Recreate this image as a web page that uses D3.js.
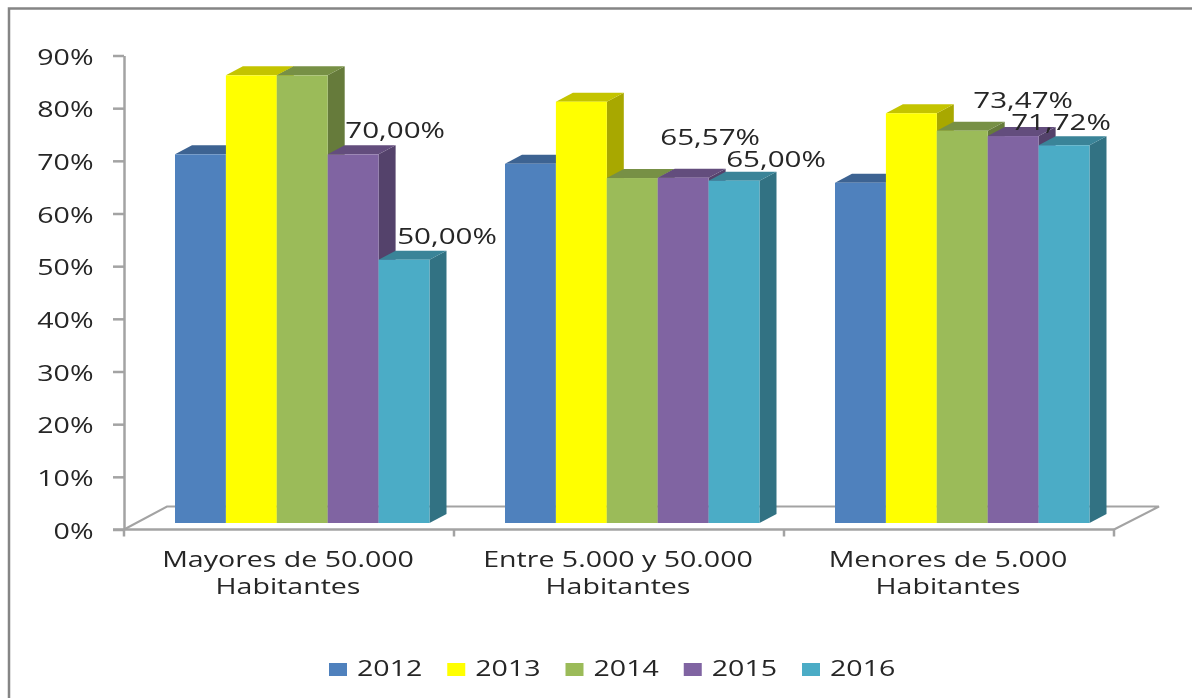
<!DOCTYPE html>
<html>
<head>
<meta charset="utf-8">
<script src="https://cdn.jsdelivr.net/npm/d3@7"></script>
<style>
  html, body { margin: 0; background: #fff; }
  svg { display: block; filter: blur(0.45px); }
  text { font-family: "Open Sans", sans-serif; fill: #262626; }
</style>
</head>
<body>
<svg id="chart" width="1192" height="698"></svg>
<script>
// values
const categories = ['Mayores de 50.000 Habitantes', 'Entre 5.000 y 50.000 Habitantes', 'Menores de 5.000 Habitantes'];
const years = ['2012', '2013', '2014', '2015', '2016'];
const colors = ['#4f81bd', '#ffff00', '#9bbb59', '#8064a2', '#4bacc6'];
const values2012 = [70, 68.2, 64.6];
const values2013 = [85, 80, 77.8];
const values2014 = [85, 65.5, 74.5];
const values2015 = [70, 65.57, 73.47];
const values2016 = [50, 65, 71.72];
const seriesValues = [values2012, values2013, values2014, values2015, values2016];
const yTicks = [0, 10, 20, 30, 40, 50, 60, 70, 80, 90];

// only the last two series carry labels, they were moved by hand in the original
const labelNudges = [
  { series: 3, cat: 0, dx: 42, dy: -16 },
  { series: 4, cat: 0, dx: 43, dy: -16 },
  { series: 3, cat: 1, dx: 27, dy: -33 },
  { series: 4, cat: 1, dx: 42, dy: -14 },
  { series: 3, cat: 2, dx: 10, dy: -28 },
  { series: 4, cat: 2, dx: -3, dy: -15 }
];

const svg = d3.select('#chart');
const axisColor = '#a3a3a3';
const stretch = 1.36; // the source picture is stretched sideways
const labelStretch = 1.41;
const fontSize = 21;
const depth = { x: 17, y: 9 };
const floorLift = 6.5; // bars stand a bit behind the front edge of the floor

const x0 = d3.scaleBand().domain(categories).range([124, 1114]);
const x1 = d3.scaleBand().domain(years).range([51, 305.5]);
const y = d3.scaleLinear().domain([0, 90]).range([529.5, 55.5]);

// stretched text, anchored at its own x,y
const addText = (parent, x, yPos, str, anchor, sx = stretch) => parent.append('text')
  .attr('transform', `translate(${x}, ${yPos}) scale(${sx}, 1)`)
  .attr('text-anchor', anchor)
  .attr('font-size', fontSize)
  .text(str);

const shade = (color, k) => {
  const c = d3.rgb(color);
  return d3.rgb(c.r * k, c.g * k, c.b * k).formatHex();
};

// outer frame, only top and left are visible
svg.append('path')
  .attr('d', 'M9,698V8.5H1192')
  .attr('fill', 'none')
  .attr('stroke', '#858585')
  .attr('stroke-width', 2.5);

// floor
const floorBack = 506.5;
svg.append('path')
  .attr('d', d3.line()([[x0.range()[0], y(0)], [167, floorBack], [1159, floorBack], [x0.range()[1], y(0)]]))
  .attr('fill', 'none')
  .attr('stroke', axisColor)
  .attr('stroke-width', 2);

// y axis
const yAxis = svg.append('g')
  .attr('transform', `translate(${x0.range()[0]}, 0)`)
  .call(d3.axisLeft(y).tickValues(yTicks).tickSize(11).tickSizeOuter(0).tickFormat(d => d + '%'));
yAxis.selectAll('.domain, line').attr('stroke', axisColor).attr('stroke-width', 2.5);
yAxis.selectAll('text')
  .attr('font-size', fontSize)
  .attr('x', 0)
  .attr('dy', null)
  .attr('transform', `translate(-30.5, 8.5) scale(${stretch}, 1)`);

// x axis line and ticks on the category boundaries
const xAxis = svg.append('g');
xAxis.append('line')
  .attr('x1', x0.range()[0] - 11)
  .attr('x2', x0.range()[1])
  .attr('y1', y(0))
  .attr('y2', y(0))
  .attr('stroke', axisColor)
  .attr('stroke-width', 2.5);
xAxis.selectAll('.boundary').data([...categories.map(c => x0(c)), x0.range()[1]])
  .enter().append('line')
    .attr('class', 'boundary')
    .attr('x1', d => d)
    .attr('x2', d => d)
    .attr('y1', y(0))
    .attr('y2', y(0) + 7)
    .attr('stroke', axisColor)
    .attr('stroke-width', 2.5);

// category labels on two lines
const splitLabel = c => {
  const i = c.lastIndexOf(' ');
  return [c.slice(0, i), c.slice(i + 1)];
};
categories.forEach(c => {
  const cx = x0(c) + x0.bandwidth() / 2 - 1;
  const lines = splitLabel(c);
  addText(svg, cx, 567, lines[0], 'middle');
  addText(svg, cx, 594, lines[1], 'middle');
});

// 3d bars, drawn left to right so each front hides the side before it
const barY = v => y(v) - floorLift;
categories.forEach((c, ci) => {
  const g = svg.append('g').attr('class', 'group');
  years.forEach((yr, si) => {
    const v = seriesValues[si][ci];
    const left = x0(c) + x1(yr);
    const right = left + x1.bandwidth();
    const top = barY(v);
    const bottom = barY(0);
    g.append('path')
      .attr('d', d3.line()([[right, top], [right + depth.x, top - depth.y], [right + depth.x, bottom - depth.y], [right, bottom]]) + 'Z')
      .attr('fill', shade(colors[si], 0.66));
    g.append('path')
      .attr('d', d3.line()([[left, top], [left + depth.x, top - depth.y], [right + depth.x, top - depth.y], [right, top]]) + 'Z')
      .attr('fill', shade(colors[si], 0.77));
    g.append('rect')
      .attr('x', left)
      .attr('y', top)
      .attr('width', x1.bandwidth())
      .attr('height', bottom - top)
      .attr('fill', colors[si]);
  });
});

// data labels
labelNudges.forEach(d => {
  const yr = years[d.series];
  const v = seriesValues[d.series][d.cat];
  const cx = x0(categories[d.cat]) + x1(yr) + x1.bandwidth() / 2;
  addText(svg, cx + d.dx, barY(v) + d.dy, v.toFixed(2).replace('.', ',') + '%', 'middle', labelStretch);
});

// legend
const legendX = d3.scalePoint().domain(years).range([329, 802]);
years.forEach((yr, i) => {
  svg.append('rect')
    .attr('x', legendX(yr))
    .attr('y', 663)
    .attr('width', 18)
    .attr('height', 13)
    .attr('fill', colors[i]);
  addText(svg, legendX(yr) + 28, 676, yr, 'start');
});
</script>
</body>
</html>
